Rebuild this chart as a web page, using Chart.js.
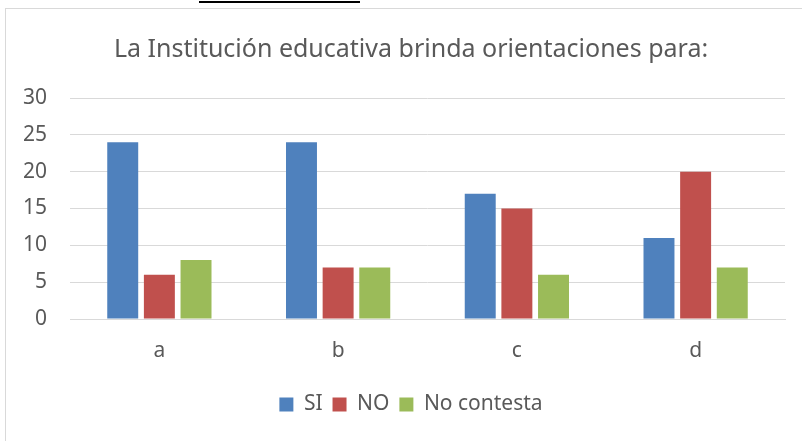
<!DOCTYPE html>
<html>
<head>
<meta charset="utf-8">
<script src="https://cdn.jsdelivr.net/npm/chart.js@4"></script>
<style>
  html, body { margin: 0; padding: 0; background: #fff; overflow: hidden; }
  body { width: 802px; height: 441px; position: relative; }
  #marco { position: absolute; left: 5px; top: 8px; width: 830px; height: 460px;
           border-top: 1px solid #d9d9d9; border-left: 1px solid #d9d9d9; }
  #subrayado { position: absolute; left: 199px; top: 1px; width: 161px; height: 2px; background: #000; }
  #lienzo { position: absolute; left: 0; top: 0; width: 822px; height: 441px; }
</style>
</head>
<body>
<div id="subrayado"></div>
<div id="marco"></div>
<div id="lienzo"><canvas id="grafica"></canvas></div>
<script>
/* Orientaciones de la institución educativa: SI / NO / No contesta */

const categorias = ["a", "b", "c", "d"];
const valoresSi = [24, 24, 17, 11];
const valoresNo = [6, 7, 15, 20];
const valoresNoContesta = [8, 7, 6, 7];
const ticksY = [0, 5, 10, 15, 20, 25, 30];

const fuente = "'Noto Sans', 'Open Sans', sans-serif";
const colorTexto = "#595959";
const colorRejilla = "#d9d9d9";

// el eje Y queda estrecho por el margen izquierdo; se ensancha su caja para que no recorte las etiquetas
const ejeYAncho = {
  id: "ejeYAncho",
  afterLayout(chart) { chart.scales.y.left = 0; },
};

new Chart(document.getElementById("grafica"), {
  type: "bar",
  data: {
    labels: categorias,
    datasets: [
      { label: "SI", data: valoresSi, backgroundColor: "#4f81bd" },
      { label: "NO", data: valoresNo, backgroundColor: "#c0504d" },
      { label: "No contesta", data: valoresNoContesta, backgroundColor: "#9bbb59" },
    ],
  },
  options: {
    responsive: true,
    maintainAspectRatio: false,
    animation: false,
    datasets: { bar: { categoryPercentage: 0.615, barPercentage: 0.845 } },
    // margen izquierdo igual al derecho para que título y leyenda queden centrados como en el original
    layout: { padding: { top: 8, left: 37, right: 37, bottom: 16 } },
    plugins: {
      title: {
        display: true,
        text: "La Institución educativa brinda orientaciones para:",
        color: colorTexto,
        font: { family: fuente, size: 25, weight: "normal" },
        padding: { top: 27, bottom: 33 },
      },
      legend: {
        position: "bottom",
        labels: {
          color: colorTexto,
          font: { family: fuente, size: 21 },
          boxWidth: 14,
          boxHeight: 14,
          padding: 10,
        },
      },
      tooltip: { enabled: false },
    },
    scales: {
      y: {
        min: 0,
        max: 30,
        afterBuildTicks: (eje) => { eje.ticks = ticksY.map((v) => ({ value: v })); },
        afterFit: (eje) => { eje.width = 33; },
        ticks: { color: colorTexto, font: { family: fuente, size: 21 }, padding: 23 },
        grid: { color: colorRejilla, drawTicks: false },
        border: { display: false },
      },
      x: {
        afterFit: (eje) => { eje.height = 65; },
        ticks: { color: colorTexto, font: { family: fuente, size: 21 }, padding: 19 },
        grid: { display: false, drawTicks: false },
        border: { color: colorRejilla },
      },
    },
  },
  plugins: [ejeYAncho],
});
</script>
</body>
</html>
